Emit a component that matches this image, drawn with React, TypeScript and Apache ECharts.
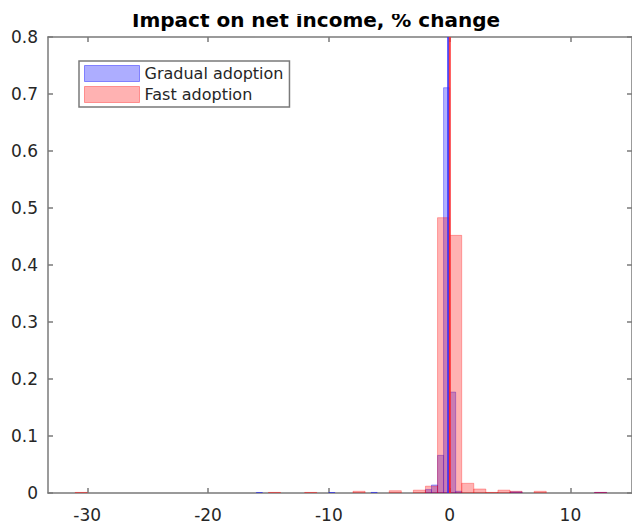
import React, { useEffect, useRef } from "react";
import * as echarts from "echarts";

// Gradual adoption histogram (bin start, bin end, probability)
const gradualStart = [-16, -10, -6.5, -2, -1.5, -1, -0.5, 0, 0.5, 5, 12];
const gradualEnd = [-15.5, -9.5, -6, -1.5, -1, -0.5, 0, 0.5, 1, 6, 13];
const gradualProb = [0.0008, 0.0008, 0.001, 0.006, 0.014, 0.066, 0.711, 0.177, 0.003, 0.002, 0.001];

// Fast adoption histogram
const fastStart = [-31, -15, -12, -8, -5, -3, -2, -1, 0, 1, 2, 3, 4, 5, 7, 12];
const fastEnd = [-30, -14, -11, -7, -4, -2, -1, 0, 1, 2, 3, 4, 5, 6, 8, 13];
const fastProb = [0.001, 0.001, 0.001, 0.003, 0.004, 0.005, 0.012, 0.483, 0.452, 0.017, 0.007, 0.001, 0.005, 0.003, 0.003, 0.001];

// Vertical reference lines (means)
const gradualMean = -0.12;
const fastMean = 0.02;

const xTicks = [-30, -20, -10, 0, 10];
const yTicks = [0, 0.1, 0.2, 0.3, 0.4, 0.5, 0.6, 0.7, 0.8];

const titleText = "Impact on net income, % change";
const seriesNames = ["Gradual adoption", "Fast adoption"];

const FONT = "DejaVu Sans";
const AXIS_COLOR = "#7a7a7a";
const TEXT_COLOR = "#262626";

function histSeries(name: string, s: number[], e: number[], p: number[], fill: string, stroke: string) {
  return {
    type: "custom",
    name,
    xAxisIndex: 0,
    yAxisIndex: 0,
    clip: true,
    itemStyle: { color: fill, borderColor: stroke },
    encode: { x: [0, 1], y: 2 },
    data: s.map((v, i) => [v, e[i], p[i]]),
    renderItem: (params: any, api: any) => {
      const p0 = api.coord([api.value(0), api.value(2)]);
      const p1 = api.coord([api.value(1), 0]);
      return {
        type: "rect",
        shape: { x: p0[0], y: p0[1], width: p1[0] - p0[0], height: p1[1] - p0[1] },
        style: { fill, stroke, lineWidth: 1 },
      };
    },
  };
}

export default function App() {
  const ref = useRef<HTMLDivElement>(null);
  useEffect(() => {
    document.body.style.margin = "0";
    const chart = echarts.init(ref.current!, null, { renderer: "svg" });
    const xMin = -33.25;
    const xMax = 15.1;
    const commonAxisLine = { show: true, onZero: false, lineStyle: { color: AXIS_COLOR, width: 1.5 } };
    const tickStyle = { show: true, inside: true, length: 5, lineStyle: { color: AXIS_COLOR, width: 1.5 } };
    chart.setOption({
      animation: false,
      backgroundColor: "#ffffff",
      title: {
        text: titleText,
        left: "center",
        top: 5,
        textStyle: { fontFamily: FONT, fontSize: 20, fontWeight: "bold", color: "#000" },
      },
      graphic: [
        {
          type: "rect",
          left: 0,
          top: 0,
          z: 100,
          silent: true,
          shape: { width: 632, height: 14 },
          style: { fill: "#ffffff" },
        },
      ],
      legend: {
        orient: "vertical",
        left: 79,
        top: 61,
        padding: [4, 6, 4, 5],
        itemGap: 4,
        itemWidth: 55,
        itemHeight: 16,
        borderColor: "#7a7a7a",
        borderWidth: 1.5,
        backgroundColor: "#fff",
        textStyle: { fontFamily: FONT, fontSize: 16, color: TEXT_COLOR },
        data: [
          { name: seriesNames[0], icon: "rect", itemStyle: { color: "rgba(0,0,255,0.32)", borderColor: "rgba(0,0,255,0.4)", borderWidth: 1 } },
          { name: seriesNames[1], icon: "rect", itemStyle: { color: "rgba(255,0,0,0.3)", borderColor: "rgba(255,0,0,0.35)", borderWidth: 1 } },
        ],
      },
      grid: { left: 48, top: 37, width: 585, height: 460, containLabel: false },
      xAxis: [
        {
          type: "value",
          min: xMin,
          max: xMax,
          position: "bottom",
          axisLine: commonAxisLine,
          axisTick: { ...tickStyle, customValues: xTicks },
          axisLabel: { customValues: xTicks, fontFamily: FONT, fontSize: 17, color: TEXT_COLOR, margin: 13 },
          splitLine: { show: false },
        },
        {
          type: "value",
          min: xMin,
          max: xMax,
          position: "top",
          axisLine: commonAxisLine,
          axisTick: { ...tickStyle, customValues: xTicks },
          axisLabel: { show: false },
          splitLine: { show: false },
        },
      ],
      yAxis: [
        {
          type: "value",
          min: 0,
          max: 0.8,
          interval: 0.1,
          position: "left",
          axisLine: commonAxisLine,
          axisTick: tickStyle,
          axisLabel: {
            fontFamily: FONT,
            fontSize: 17,
            color: TEXT_COLOR,
            margin: 10,
            formatter: (v: number) => String(Math.round(v * 10) / 10),
          },
          splitLine: { show: false },
        },
        {
          type: "value",
          min: 0,
          max: 0.8,
          interval: 0.1,
          position: "right",
          axisLine: commonAxisLine,
          axisTick: tickStyle,
          axisLabel: { show: false },
          splitLine: { show: false },
        },
      ],
      series: [
        histSeries(seriesNames[0], gradualStart, gradualEnd, gradualProb, "rgba(0,0,255,0.3)", "rgba(0,0,255,0.35)"),
        histSeries(seriesNames[1], fastStart, fastEnd, fastProb, "rgba(255,0,0,0.3)", "rgba(255,0,0,0.3)"),
        {
          type: "line",
          name: "gradual-mean",
          xAxisIndex: 0,
          yAxisIndex: 0,
          showSymbol: false,
          silent: true,
          lineStyle: { color: "rgba(40,40,255,0.85)", width: 2 },
          data: [[gradualMean, 0], [gradualMean, yTicks[yTicks.length - 1]]],
        },
        {
          type: "line",
          name: "fast-mean",
          xAxisIndex: 0,
          yAxisIndex: 0,
          showSymbol: false,
          silent: true,
          lineStyle: { color: "rgba(255,40,40,0.85)", width: 2 },
          data: [[fastMean, 0], [fastMean, yTicks[yTicks.length - 1]]],
        },
      ],
    });
    return () => chart.dispose();
  }, []);
  return <div ref={ref} style={{ width: 632, height: 523 }} />;
}
